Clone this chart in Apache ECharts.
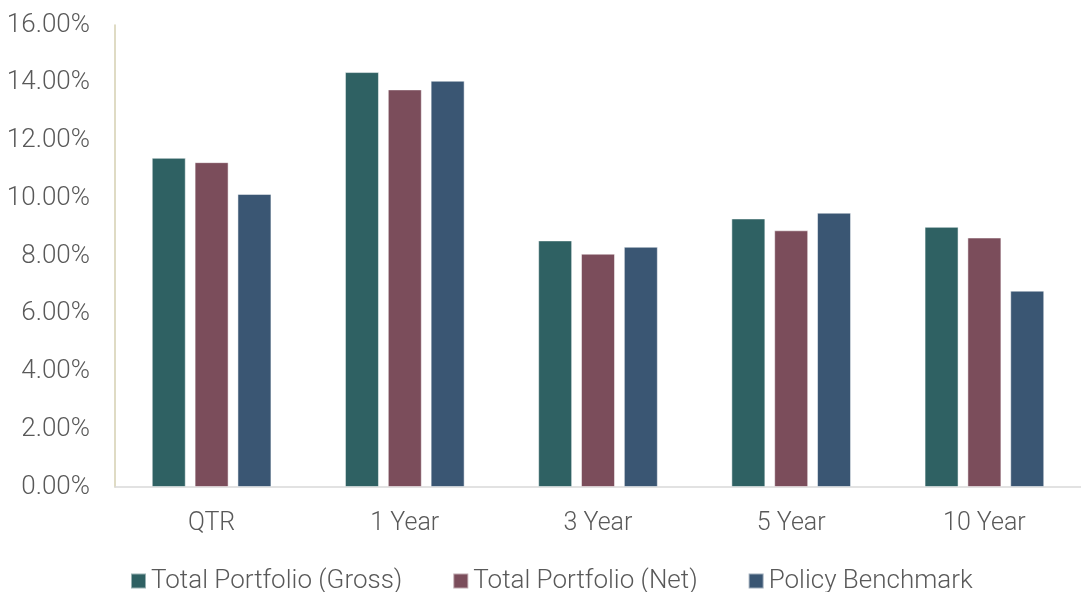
<!DOCTYPE html>
<html><head><meta charset="utf-8">
<script src="https://cdn.jsdelivr.net/npm/echarts@6/dist/echarts.min.js"></script>
<style>html,body{margin:0;padding:0;background:#fff}#c{width:1081px;height:592px}</style>
</head><body><div id="c"></div>
<script>
const categories = ['QTR', '1 Year', '3 Year', '5 Year', '10 Year'];
const seriesNames = ['Total Portfolio (Gross)', 'Total Portfolio (Net)', 'Policy Benchmark'];
const gross = [11.40, 14.37, 8.54, 9.30, 9.01];
const net = [11.25, 13.77, 8.08, 8.89, 8.64];
const bench = [10.15, 14.07, 8.32, 9.50, 6.80];
const colors = ['#2F6163', '#7B4D5B', '#3A5673'];
const font = 'Roboto, "Noto Sans", sans-serif';
const chart = echarts.init(document.getElementById('c'));
const dataSets = [gross, net, bench];
chart.setOption({
  animation: false,
  grid: { left: 115, right: 0, top: 25, bottom: 105, containLabel: false },
  legend: {
    top: 563, left: 125, itemWidth: 15, itemHeight: 15, itemGap: 50,
    icon: 'rect',
    textStyle: { fontFamily: font, fontWeight: 300, fontSize: 26, color: '#595959', padding: [0, 0, 0, 0] },
    data: seriesNames
  },
  xAxis: {
    type: 'category', data: categories,
    axisLine: { lineStyle: { color: '#d9d9d9', width: 1.5 } },
    axisTick: { show: false },
    axisLabel: { fontFamily: font, fontWeight: 300, fontSize: 25, color: '#595959', margin: 24 }
  },
  yAxis: {
    type: 'value', min: 0, max: 16, interval: 2,
    axisLine: { show: true, lineStyle: { color: '#d4cfb0', width: 1.5 } },
    axisTick: { show: false },
    splitLine: { show: false },
    axisLabel: { fontFamily: font, fontWeight: 300, fontSize: 26, color: '#595959', margin: 25,
      padding: [4, 0, 0, 0],
      formatter: v => v.toFixed(2) + '%' }
  },
  series: dataSets.map((d, i) => ({
    name: seriesNames[i], type: 'bar', data: d,
    barWidth: 34, barGap: '26%',
    itemStyle: { color: colors[i], borderColor: 'rgba(255,255,255,0.5)', borderWidth: 1 }
  }))
});
</script></body></html>
